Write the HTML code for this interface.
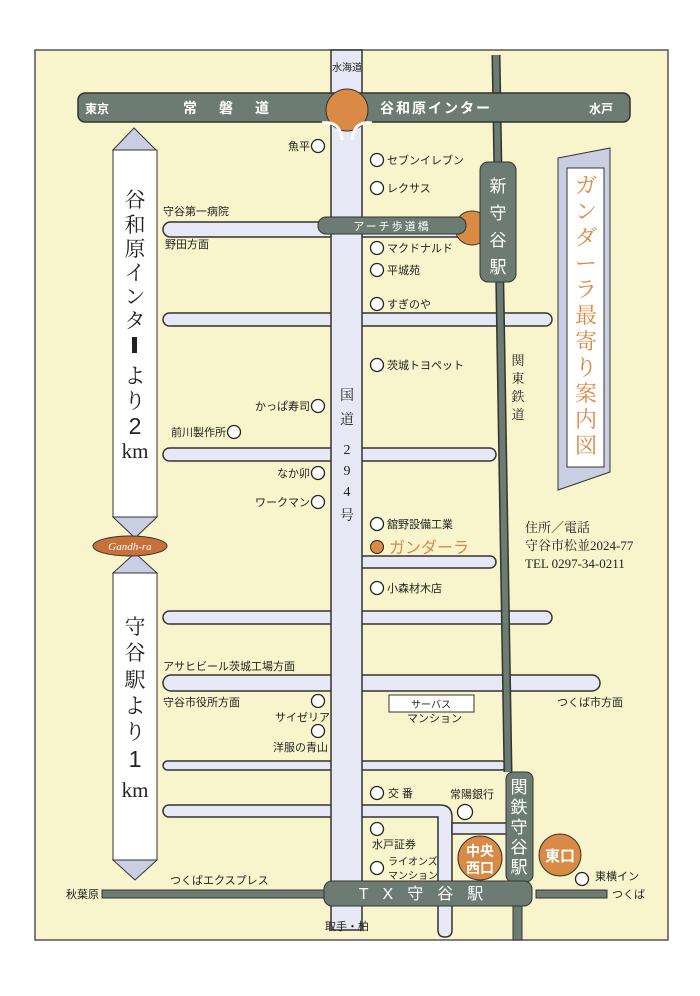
<!DOCTYPE html>
<html><head><meta charset="utf-8"><style>
html,body{margin:0;padding:0;background:#fff}
svg{display:block}
text{font-family:"Liberation Sans","Noto Sans CJK JP",sans-serif;fill:#222}
.s{font-family:"Liberation Serif","Noto Serif CJK JP",serif}
.w{fill:#fff}
.o{fill:#d98a45}
</style></head><body>
<svg width="700" height="996" viewBox="0 0 700 996">
<rect x="35" y="50" width="633" height="890" fill="#f8f4cb" stroke="#555" stroke-width="1.5"/>
<!-- roads -->
<g fill="#e6e9f5" stroke="#333" stroke-width="1.5">
<rect x="163" y="222" width="320" height="15" rx="7.5"/>
<rect x="163" y="313" width="389" height="13" rx="6.5"/>
<rect x="163" y="448" width="333" height="13" rx="6.5"/>
<rect x="345" y="556" width="151" height="12" rx="6"/>
<rect x="163" y="611" width="389" height="13" rx="6.5"/>
<rect x="163" y="675" width="437" height="16" rx="8"/>
<rect x="163" y="761" width="343" height="9" rx="4.5"/>
<path d="M169,805 H440 Q452,805 452,817 V930 Q452,937 445,937 Q438,937 438,930 V817 H169 A6,6 0 0 1 169,805 Z"/>
<rect x="452" y="823" width="56" height="11"/>
<rect x="331" y="50" width="31" height="880"/>
</g>
<g fill="#e6e9f5">
<rect x="332" y="223" width="29" height="13"/>
<rect x="332" y="314" width="29" height="11"/>
<rect x="332" y="449" width="29" height="11"/>
<rect x="332" y="612" width="29" height="11"/>
<rect x="332" y="676" width="29" height="14"/>
<rect x="332" y="762" width="29" height="7"/>
<rect x="332" y="806" width="29" height="10"/>
<rect x="439" y="816" width="12" height="8"/>
</g>
<!-- railway -->
<path d="M496,55 L508,772" stroke="#333" stroke-width="9"/>
<path d="M496,55 L508,772" stroke="#6c7c72" stroke-width="6"/>
<rect x="513" y="880" width="9" height="60" fill="#6c7c72" stroke="#333"/>
<rect x="102" y="890" width="222" height="8" fill="#6c7c72" stroke="#333"/>
<rect x="536" y="890" width="71" height="8" fill="#6c7c72" stroke="#333"/>
<circle cx="472" cy="228" r="17" fill="#d98a45" stroke="#333"/>
<rect x="480" y="162" width="36" height="120" rx="8" fill="#6c7c72" stroke="#333"/>
<text class="w" x="498" y="192" font-size="17" text-anchor="middle">新</text>
<text class="w" x="498" y="219" font-size="17" text-anchor="middle">守</text>
<text class="w" x="498" y="246" font-size="17" text-anchor="middle">谷</text>
<text class="w" x="498" y="273" font-size="17" text-anchor="middle">駅</text>
<rect x="318" y="217" width="148" height="17" rx="8" fill="#6c7c72" stroke="#333"/>
<text class="w" x="392" y="230" font-size="11" text-anchor="middle" letter-spacing="2">アーチ歩道橋</text>
<!-- highway -->
<rect x="78" y="93" width="552" height="29" rx="7" fill="#6c7c72" stroke="#333" stroke-width="1.5"/>
<circle cx="347" cy="110" r="21" fill="#d98a45" stroke="#333"/>
<path d="M322,123 Q340,120 342,140 M372,123 Q354,120 352,140" stroke="#fff" stroke-width="3" fill="none"/>
<text class="w" x="85" y="113" font-size="12" font-weight="bold">東京</text>
<text class="w" x="183" y="113" font-size="14" font-weight="bold" letter-spacing="22">常磐道</text>
<text class="w" x="380" y="113" font-size="14" font-weight="bold" letter-spacing="2">谷和原インター</text>
<text class="w" x="589" y="113" font-size="12" font-weight="bold">水戸</text>
<text x="347" y="71" font-size="10" text-anchor="middle">水海道</text>
<!-- left arrows -->
<polygon points="113,150 134,128 156,150" fill="#c9cee2" stroke="#333"/>
<rect x="113" y="150" width="44" height="367" fill="#fff" stroke="#333"/>
<polygon points="113,517 157,517 135,538" fill="#c9cee2" stroke="#333"/>
<polygon points="113,573 135,553 157,573" fill="#c9cee2" stroke="#333"/>
<rect x="113" y="573" width="44" height="287" fill="#fff" stroke="#333"/>
<polygon points="113,860 157,860 135,880" fill="#c9cee2" stroke="#333"/>
<ellipse cx="130" cy="546" rx="37" ry="10" fill="#c8703a" stroke="#333"/>
<text class="w s" x="130" y="550" font-size="11" font-style="italic" text-anchor="middle">Gandh-ra</text>
<g font-size="21" text-anchor="middle">
<text class="s" x="135" y="207">谷</text>
<text class="s" x="135" y="232">和</text>
<text class="s" x="135" y="256">原</text>
<text class="s" x="135" y="280">イ</text>
<text class="s" x="135" y="304">ン</text>
<text class="s" x="135" y="328">タ</text>
<rect x="132" y="337" width="5" height="16" fill="#222"/>
<text class="s" x="135" y="383">よ</text>
<text class="s" x="135" y="408">り</text>
<text x="135" y="434" font-size="23">2</text>
<text class="s" x="135" y="458">km</text>
<text class="s" x="135" y="634">守</text>
<text class="s" x="135" y="660">谷</text>
<text class="s" x="135" y="687">駅</text>
<text class="s" x="135" y="713">よ</text>
<text class="s" x="135" y="739">り</text>
<text x="135" y="767" font-size="23">1</text>
<text class="s" x="135" y="797">km</text>
</g>
<!-- store circles -->
<g fill="#fff" stroke="#222" stroke-width="1.3">
<circle cx="318" cy="146" r="6.5"/>
<circle cx="377" cy="160" r="6.5"/>
<circle cx="377" cy="188" r="6.5"/>
<circle cx="377" cy="248" r="6.5"/>
<circle cx="377" cy="270" r="6.5"/>
<circle cx="377" cy="304" r="6.5"/>
<circle cx="377" cy="365" r="6.5"/>
<circle cx="318" cy="406" r="6.5"/>
<circle cx="234" cy="432" r="6.5"/>
<circle cx="318" cy="473" r="6.5"/>
<circle cx="318" cy="502" r="6.5"/>
<circle cx="377" cy="524" r="6.5"/>
<circle cx="377" cy="588" r="6.5"/>
<circle cx="318" cy="701" r="6.5"/>
<circle cx="318" cy="731" r="6.5"/>
<circle cx="377" cy="793" r="6.5"/>
<circle cx="465" cy="812" r="7.5"/>
<circle cx="377" cy="829" r="6.5"/>
<circle cx="377" cy="868" r="6.5"/>
<circle cx="582" cy="879" r="6.5"/>
</g>
<circle cx="377" cy="547" r="6.5" fill="#d98a45" stroke="#222"/>
<g font-size="11">
<text x="310" y="150" text-anchor="end">魚平</text>
<text x="387" y="164">セブンイレブン</text>
<text x="387" y="192">レクサス</text>
<text x="163" y="215">守谷第一病院</text>
<text x="165" y="248">野田方面</text>
<text x="387" y="252">マクドナルド</text>
<text x="387" y="274">平城苑</text>
<text x="387" y="308">すぎのや</text>
<text x="387" y="369">茨城トヨペット</text>
<text x="310" y="410" text-anchor="end">かっぱ寿司</text>
<text x="226" y="436" text-anchor="end">前川製作所</text>
<text x="310" y="477" text-anchor="end">なか卯</text>
<text x="310" y="506" text-anchor="end">ワークマン</text>
<text x="387" y="528">舘野設備工業</text>
<text x="387" y="592">小森材木店</text>
<text x="163" y="670">アサヒビール茨城工場方面</text>
<text x="163" y="706">守谷市役所方面</text>
<text x="330" y="721" text-anchor="end">サイゼリア</text>
<text x="328" y="751" text-anchor="end">洋服の青山</text>
<text x="557" y="706">つくば市方面</text>
<text x="388" y="797">交 番</text>
<text x="450" y="798">常陽銀行</text>
<text x="372" y="848">水戸証券</text>
<text x="388" y="865" font-size="10">ライオンズ</text>
<text x="388" y="879" font-size="10">マンション</text>
<text x="595" y="880">東横イン</text>
<text x="612" y="898">つくば</text>
<text x="66" y="898">秋葉原</text>
<text x="170" y="884">つくばエクスプレス</text>
<text x="347" y="930" text-anchor="middle">取手・柏</text>
<text x="407" y="722">マンション</text>
</g>
<text x="389" y="553" font-size="16" class="o">ガンダーラ</text>
<rect x="389" y="695" width="85" height="17" fill="#fff" stroke="#333"/>
<text x="431" y="708" font-size="10" text-anchor="middle">サーバス</text>
<!-- vertical road label -->
<g class="s" font-size="14" text-anchor="middle">
<text class="s" x="347" y="400">国</text>
<text class="s" x="347" y="424">道</text>
<text class="s" x="347" y="454">2</text>
<text class="s" x="347" y="475">9</text>
<text class="s" x="347" y="496">4</text>
<text class="s" x="347" y="520">号</text>
</g>
<g font-size="13" text-anchor="middle">
<text class="s" x="518" y="365">関</text>
<text class="s" x="518" y="383">東</text>
<text class="s" x="518" y="401">鉄</text>
<text class="s" x="518" y="419">道</text>
</g>
<!-- sign -->
<polygon points="558,158 610,148 610,472 558,490" fill="#c9cee2" stroke="#333"/>
<rect x="567" y="168" width="37" height="299" fill="#fff" stroke="#333"/>
<g font-size="22" text-anchor="middle" class="o">
<text class="s o" x="586" y="193">ガ</text>
<text class="s o" x="586" y="219">ン</text>
<text class="s o" x="586" y="245">ダ</text>
<text class="s o" x="586" y="271">ー</text>
<text class="s o" x="586" y="297">ラ</text>
<text class="s o" x="586" y="323">最</text>
<text class="s o" x="586" y="349">寄</text>
<text class="s o" x="586" y="375">り</text>
<text class="s o" x="586" y="401">案</text>
<text class="s o" x="586" y="427">内</text>
<text class="s o" x="586" y="453">図</text>
</g>
<g font-size="13">
<text class="s" x="525" y="532">住所／電話</text>
<text class="s" x="525" y="550">守谷市松並2024-77</text>
<text class="s" x="525" y="568">TEL 0297-34-0211</text>
</g>
<!-- stations bottom -->
<circle cx="480" cy="858" r="22" fill="#d98a45" stroke="#333"/>
<text class="w" x="480" y="856" font-size="14" font-weight="bold" text-anchor="middle">中央</text>
<text class="w" x="480" y="873" font-size="14" font-weight="bold" text-anchor="middle">西口</text>
<circle cx="560" cy="855" r="21" fill="#d98a45" stroke="#333"/>
<text class="w" x="560" y="861" font-size="15" font-weight="bold" text-anchor="middle">東口</text>
<rect x="506" y="772" width="27" height="110" rx="7" fill="#6c7c72" stroke="#333"/>
<g font-size="17" text-anchor="middle" class="w">
<text class="w" x="519" y="793">関</text>
<text class="w" x="519" y="813">鉄</text>
<text class="w" x="519" y="833">守</text>
<text class="w" x="519" y="853">谷</text>
<text class="w" x="519" y="873">駅</text>
</g>
<rect x="324" y="881" width="208" height="25" rx="8" fill="#6c7c72" stroke="#333"/>
<text class="w" x="428" y="899" font-size="16" text-anchor="middle" letter-spacing="14">TX守谷駅</text>
</svg>
</body></html>
